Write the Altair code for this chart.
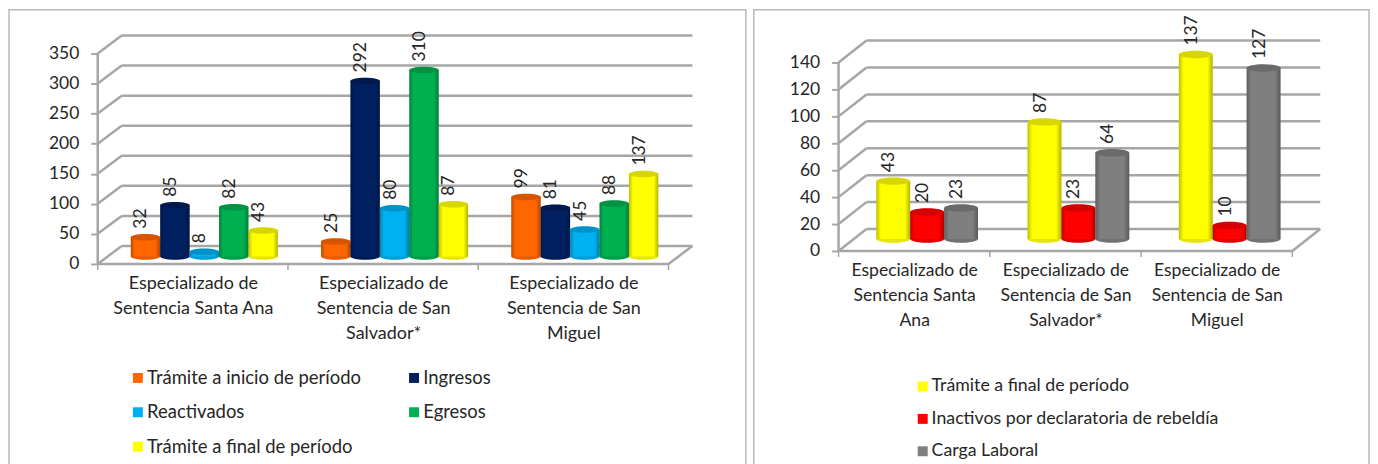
import altair as alt
import pandas as pd

cats_left = [["Especializado de", "Sentencia Santa Ana"],
             ["Especializado de", "Sentencia de San", "Salvador*"],
             ["Especializado de", "Sentencia de San", "Miguel"]]
cats_right = [["Especializado de", "Sentencia Santa", "Ana"],
              ["Especializado de", "Sentencia de San", "Salvador*"],
              ["Especializado de", "Sentencia de San", "Miguel"]]
series_left = ["Trámite a inicio de período", "Ingresos", "Reactivados", "Egresos", "Trámite a final de período"]
colors_left = ["#ff6600", "#002060", "#00b0f0", "#00b050", "#ffff00"]
tramite_inicio = [32, 25, 99]
ingresos = [85, 292, 81]
reactivados = [8, 80, 45]
egresos = [82, 310, 88]
tramite_final = [43, 87, 137]
series_right = ["Trámite a final de período", "Inactivos por declaratoria de rebeldía", "Carga Laboral"]
colors_right = ["#ffff00", "#ff0000", "#7f7f7f"]
inactivos = [20, 23, 10]
carga = [23, 64, 127]
ticks_left = [0, 50, 100, 150, 200, 250, 300, 350]
ticks_right = [0, 20, 40, 60, 80, 100, 120, 140]

GRID = "#a6a6a6"
TEXT = "#262626"
FONT = "Lato"
TOP = 8
H = 460
alt_shade = alt.Gradient(gradient="linear", x1=0, x2=1, y1=0, y2=0, stops=[
    alt.GradientStop(offset=0, color="rgba(0,0,0,0.25)"),
    alt.GradientStop(offset=0.14, color="rgba(0,0,0,0)"),
    alt.GradientStop(offset=0.84, color="rgba(0,0,0,0)"),
    alt.GradientStop(offset=1, color="rgba(0,0,0,0.30)"),
])
ELLIPSE = "M-1,0A1,0.22 0 1 1 1,0A1,0.22 0 1 1 -1,0Z"


def panel(cats, names, colors, values, ticks, left, width, ax_x, y0, ppu, band, depth_x, depth_y,
          bar_w, base_y, bar_dx, legend_x, legend_y, legend_cols, row_pad, col_pad, cat_size, legend_size,
          label_gap):
    x0 = (left - ax_x) / band
    x1 = (left + width - ax_x) / band
    ymin = (y0 - TOP - H) / ppu
    ymax = (y0 - TOP) / ppu
    dxc = depth_x / band
    dyv = depth_y / ppu
    top = ticks[-1]
    base_v = base_y / ppu
    wc = bar_w / band
    n = len(names)

    rows = []
    for c in range(3):
        for s, name in enumerate(names):
            cx = c + 0.5 + bar_dx / band + (s - (n - 1) / 2) * wc
            v = values[s][c]
            rows.append(dict(name=name, cx=cx, x1=cx - wc / 2, x2=cx + wc / 2, v=v, base=base_v, top=v + base_v,
                             order=s))
    bars = pd.DataFrame(rows)

    grid = [dict(a=dxc, b=3 + dxc, c=t + dyv, d=t + dyv) for t in ticks]
    grid += [dict(a=0, b=dxc, c=t, d=t + dyv) for t in ticks]
    grid += [dict(a=0, b=0, c=0, d=top), dict(a=0, b=3, c=0, d=0), dict(a=3, b=3 + dxc, c=0, d=dyv)]
    grid = pd.DataFrame(grid)
    floor_ticks = pd.DataFrame([dict(a=i, c=0, d=-6 / ppu) for i in range(4)])

    xs = alt.Scale(domain=[x0, x1], nice=False, zero=False)
    ys = alt.Scale(domain=[ymin, ymax], nice=False, zero=False)
    expr = "".join(f"datum.value<{i + 1}?{c!r}:" for i, c in enumerate(cats[:-1])) + repr(cats[-1])
    x_axis = alt.Axis(values=[0.5, 1.5, 2.5], labelExpr=expr, ticks=False, domain=False, grid=False, title=None,
                      offset=y0 - TOP - H, labelPadding=11, labelFontSize=cat_size, labelFont=FONT, labelColor=TEXT,
                      labelLineHeight=25, labelAngle=0, labelOverlap=False, labelFlush=False, labelBound=False,
                      labelBaseline="top")
    y_axis = alt.Axis(values=ticks, domain=False, grid=False, title=None, offset=left - ax_x,
                      tickColor=GRID, tickSize=7, tickWidth=2, labelPadding=12, labelFontSize=17.5, labelFont=FONT,
                      labelColor=TEXT, labelOverlap=False, labelFlush=False, labelBound=False)
    color = alt.Color("name:N", scale=alt.Scale(domain=names, range=colors),
                      legend=alt.Legend(title=None, orient="none", legendX=legend_x, legendY=legend_y,
                                        columns=legend_cols, direction="horizontal", symbolType="square",
                                        symbolSize=100, symbolStrokeWidth=0, labelFont=FONT,
                                        labelFontSize=legend_size, labelColor=TEXT, labelOffset=0,
                                        rowPadding=row_pad, columnPadding=col_pad, labelLimit=400))

    rules = alt.Chart(grid).mark_rule(color=GRID, strokeWidth=2.5).encode(
        x=alt.X("a:Q", scale=xs, axis=x_axis), x2="b:Q",
        y=alt.Y("c:Q", scale=ys, axis=y_axis), y2="d:Q")
    tick_rules = alt.Chart(floor_ticks).mark_rule(color=GRID, strokeWidth=1.5).encode(
        x=alt.X("a:Q", scale=xs), y=alt.Y("c:Q", scale=ys), y2="d:Q")
    size = bar_w ** 2
    bottoms = alt.Chart(bars).mark_point(shape=ELLIPSE, filled=True, opacity=1, size=size).encode(
        x=alt.X("cx:Q", scale=xs), y=alt.Y("base:Q", scale=ys), color=color,
        order="order:Q")
    bodies = alt.Chart(bars).mark_rect().encode(
        x=alt.X("x1:Q", scale=xs), x2="x2:Q", y=alt.Y("base:Q", scale=ys), y2="top:Q", color=color)
    shade = alt.Chart(bars).mark_rect(color=alt_shade).encode(
        x=alt.X("x1:Q", scale=xs), x2="x2:Q", y=alt.Y("base:Q", scale=ys), y2="top:Q")
    bottoms2 = alt.Chart(bars).mark_point(shape=ELLIPSE, filled=True, opacity=0.1, size=size, color="#000000").encode(
        x=alt.X("cx:Q", scale=xs), y=alt.Y("base:Q", scale=ys))
    caps = alt.Chart(bars).mark_point(shape=ELLIPSE, filled=True, opacity=1, size=size).encode(
        x=alt.X("cx:Q", scale=xs), y=alt.Y("top:Q", scale=ys), color=color)
    caps2 = alt.Chart(bars).mark_point(shape=ELLIPSE, filled=True, opacity=0.16, size=size, color="#000000").encode(
        x=alt.X("cx:Q", scale=xs), y=alt.Y("top:Q", scale=ys))
    labels = alt.Chart(bars).mark_text(angle=270, align="left", baseline="middle", dx=label_gap, dy=-4, font=FONT,
                                       fontSize=17.5, color=TEXT).encode(
        x=alt.X("cx:Q", scale=xs), y=alt.Y("top:Q", scale=ys), text="v:Q")
    return alt.layer(rules, tick_rules, bottoms, bottoms2, bodies, shade, caps, caps2, labels).properties(
        width=width, height=H)


left_chart = panel(cats_left, series_left, colors_left,
                   [tramite_inicio, ingresos, reactivados, egresos, tramite_final], ticks_left,
                   left=8, width=739, ax_x=97, y0=263, ppu=0.603, band=190.8, depth_x=24, depth_y=18,
                   bar_w=29.5, base_y=7.5, bar_dx=11.5, legend_x=120, legend_y=360, legend_cols=2,
                   row_pad=15.5, col_pad=43, cat_size=18, legend_size=18.5, label_gap=8.5)
right_chart = panel(cats_right, series_right, colors_right, [tramite_final, inactivos, carga], ticks_right,
                    left=753, width=617, ax_x=838, y0=250, ppu=1.35, band=151.7, depth_x=28, depth_y=22,
                    bar_w=34, base_y=12, bar_dx=13, legend_x=160.5, legend_y=369, legend_cols=1,
                    row_pad=13.5, col_pad=10, cat_size=17.6, legend_size=17.8, label_gap=9)

chart = alt.hconcat(left_chart, right_chart, spacing=6).resolve_scale(color="independent", x="independent",
                                                                       y="independent").properties(
    padding=0, background="#ffffff").configure_view(stroke="#b9b9b9", strokeWidth=1.5)
chart.save("out.html", embed_options={"renderer": "svg", "actions": False})
